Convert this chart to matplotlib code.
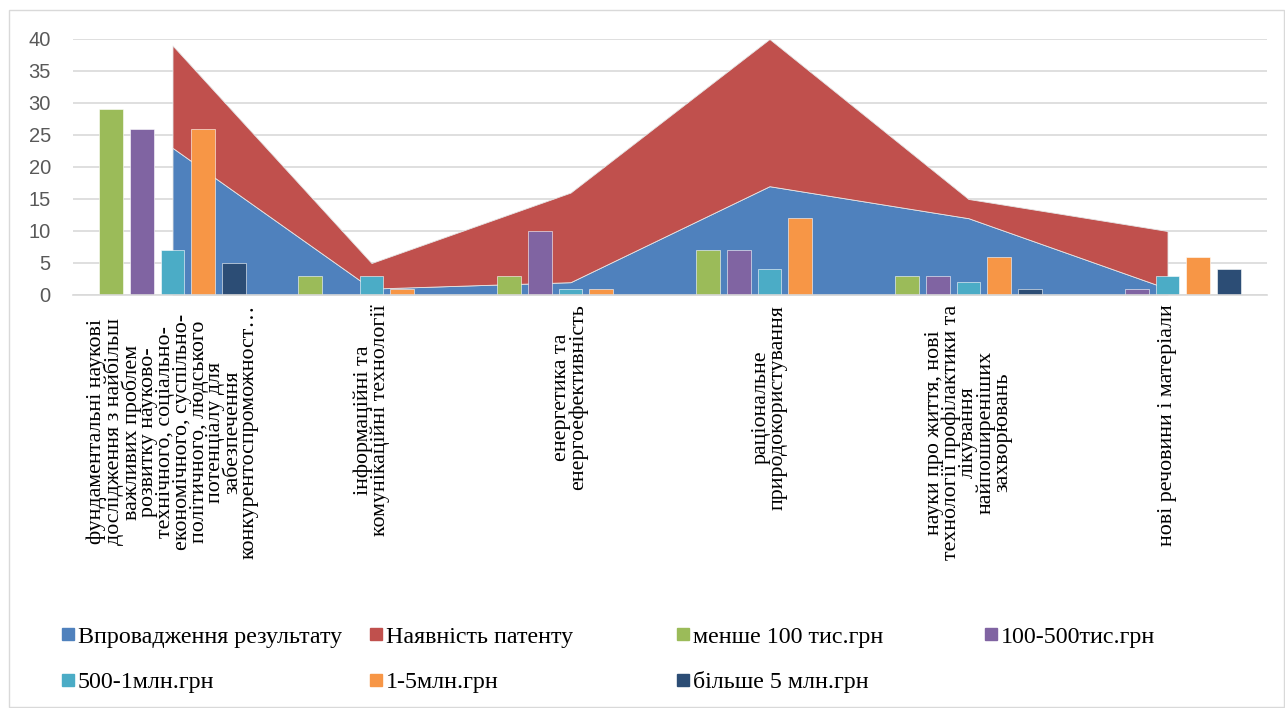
import numpy as np
import matplotlib.pyplot as plt
from matplotlib.lines import Line2D
from matplotlib.patches import Rectangle

# categories (x axis)
categories = [
    "фундаментальні наукові\nдослідження з найбільш\nважливих проблем\nрозвитку науково-\nтехнічного, соціально-\nекономічного, суспільно-\nполітичного, людського\nпотенціалу для\nзабезпечення\nконкурентоспроможност…",
    "інформаційні та\nкомунікаційні технології",
    "енергетика та\nенергоефективність",
    "раціональне\nприродокористування",
    "науки про життя, нові\nтехнології профілактики та\nлікування\nнайпоширеніших\nзахворювань",
    "нові речовини і матеріали",
]

# stacked area series
vprovadzhennia = [23, 1, 2, 17, 12, 1]
patent = [16, 4, 14, 23, 3, 9]

# bar series
less_100 = [29, 3, 3, 7, 3, 0]
from_100_500 = [26, 0, 10, 7, 3, 1]
from_500_1m = [7, 3, 1, 4, 2, 3]
from_1_5m = [26, 1, 1, 12, 6, 6]
more_5m = [5, 0, 0, 0, 1, 4]

area_names = ["Впровадження результату", "Наявність патенту"]
area_colors = ["#4F81BD", "#C0504D"]
bar_names = ["менше 100 тис.грн", "100-500тис.грн", "500-1млн.грн", "1-5млн.грн", "більше 5 млн.грн"]
bar_colors = ["#9BBB59", "#8064A2", "#4BACC6", "#F79646", "#2C4D75"]
bar_series = [less_100, from_100_500, from_500_1m, from_1_5m, more_5m]

W, H = 1285, 708
fig = plt.figure(figsize=(W / 100, H / 100), dpi=100)
fig.patch.set_facecolor("white")

# outer chart border
fig.patches.append(Rectangle((9 / W, 1 / H), (W - 10) / W, (H - 11) / H,
                             transform=fig.transFigure, fill=False,
                             edgecolor="#D9D9D9", linewidth=1))

ax = fig.add_axes([73 / W, (H - 295) / H, 1194 / W, 256 / H])

x = np.arange(len(categories))

# stacked areas
ax.stackplot(x, vprovadzhennia, patent, colors=area_colors,
             edgecolor="#E6E6E6", linewidth=0.6, zorder=2)

# clustered bars
step = 0.154
width = 0.118
for i, (vals, col) in enumerate(zip(bar_series, bar_colors)):
    ax.bar(x + (i - 2) * step, vals, width=width, color=col,
           edgecolor="#FFFFFF", linewidth=0.4, zorder=3)

ax.set_xlim(-0.5, len(categories) - 0.5)
ax.set_ylim(0, 40)
ax.set_yticks(range(0, 41, 5))
ax.yaxis.grid(True, color="#D9D9D9", linewidth=1.2)
ax.set_axisbelow(True)
for s in ["top", "right", "left"]:
    ax.spines[s].set_visible(False)
ax.spines["bottom"].set_color("#D9D9D9")
ax.spines["bottom"].set_linewidth(1.2)
ax.spines["bottom"].set_zorder(4)

ax.tick_params(axis="y", length=0, pad=16, labelsize=14.5, labelcolor="#595959")
for lab in ax.get_yticklabels():
    lab.set_family("Liberation Sans")

ax.set_xticks(x)
ax.set_xticklabels(categories, rotation=90, ha="center", va="top",
                   multialignment="center", family="Liberation Serif",
                   fontsize=15.8, linespacing=0.84)
ax.tick_params(axis="x", length=0, pad=7)

# legend: one column of entries per legend box
rows = [(area_names[0], area_colors[0], bar_names[2], bar_colors[2]),
        (area_names[1], area_colors[1], bar_names[3], bar_colors[3]),
        (bar_names[0], bar_colors[0], bar_names[4], bar_colors[4]),
        (bar_names[1], bar_colors[1], None, None)]
col_x = [62, 370, 677, 985]
for cx, (n1, c1, n2, c2) in zip(col_x, rows):
    handles = [Line2D([], [], marker="s", linestyle="none", markersize=8,
                      markerfacecolor=c1, markeredgecolor=c1)]
    labels = [n1]
    if n2 is not None:
        handles.append(Line2D([], [], marker="s", linestyle="none", markersize=8,
                              markerfacecolor=c2, markeredgecolor=c2))
        labels.append(n2)
    fig.legend(handles, labels, loc="upper left",
               bbox_to_anchor=(cx / W, (H - 626) / H), frameon=False,
               prop={"family": "Liberation Serif", "size": 17.3},
               handlelength=0.5, handletextpad=0.15, labelspacing=0.98,
               borderpad=0, borderaxespad=0)

fig.savefig("out.png", dpi=100)
